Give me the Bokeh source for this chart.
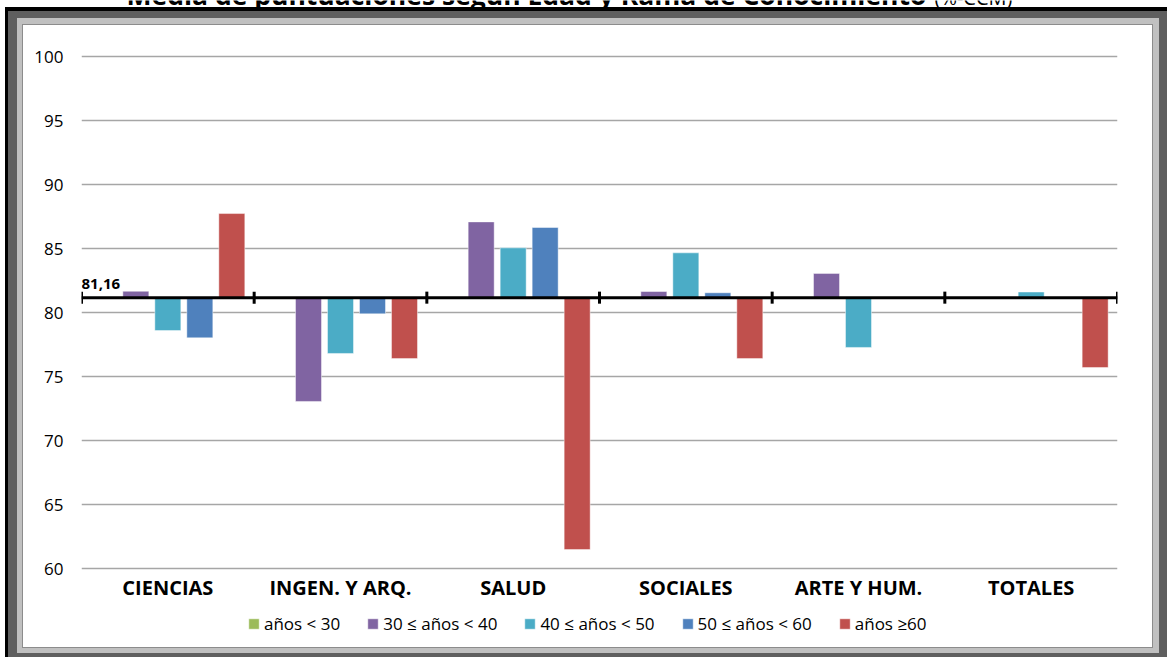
from bokeh.plotting import figure
from bokeh.models import (FactorRange, Range1d, Label, Span, Whisker,
                          ColumnDataSource, Legend, LegendItem, FixedTicker)
from bokeh.core.properties import value
from bokeh.transform import dodge
from bokeh.embed import file_html
from bokeh.resources import INLINE

nan = float("nan")

# ---------------- data ----------------
categories = ["CIENCIAS", "INGEN. Y ARQ.", "SALUD", "SOCIALES", "ARTE Y HUM.", "TOTALES"]
series_names = ["años < 30", "30 ≤ años < 40", "40 ≤ años < 50", "50 ≤ años < 60", "años ≥60"]
menos_30 = [nan, nan, nan, nan, nan, nan]
de_30_40 = [81.66, 73.05, 87.08, 81.64, 83.05, nan]
de_40_50 = [78.59, 76.80, 85.05, 84.66, 77.27, 81.60]
de_50_60 = [78.02, 79.90, 86.64, 81.54, nan, nan]
mas_60 = [87.73, 76.40, 61.48, 76.40, nan, 75.70]
media_total = 81.16
media_label = "81,16"
y_ticks = [60, 65, 70, 75, 80, 85, 90, 95, 100]
title_main = "Media de puntuaciones según Edad y Rama de Conocimiento"
title_sub = "(%-CCM)"

colors = ["#9bbb59", "#8064a2", "#4bacc6", "#4f81bd", "#c0504d"]
FONT = "Open Sans"

# ---------------- layout numbers (pixels) ----------------
W, H = 1167, 657
L, R = 81, 50                  # frame: x 81..1117, full canvas height
GRID_BOTTOM, GRID_TOP = 568, 56   # pixel rows of the values 60 and 100
y_min, y_max_grid = 60, 100
px_per_unit = (GRID_BOTTOM - GRID_TOP) / (y_max_grid - y_min)
y_lo = y_min - (H - GRID_BOTTOM) / px_per_unit
y_hi = y_min + GRID_BOTTOM / px_per_unit
n_cat = len(categories)
CENTER_SHIFT = 0.388           # text box centre sits this many em above the baseline

def sx(px):   # canvas pixel -> synthetic categorical x
    return (px - L) * n_cat / (W - L - R)

def sy(py):   # canvas pixel -> data y
    return y_min + (GRID_BOTTOM - py) / px_per_unit

def sy_base(baseline_px, size_px):   # y for a text whose baseline should sit at baseline_px
    return sy(baseline_px - CENTER_SHIFT * size_px)

p = figure(x_range=FactorRange(*categories, range_padding=0), y_range=Range1d(y_lo, y_hi),
           width=W, height=H, output_backend="svg", toolbar_location=None,
           min_border_left=L, min_border_right=R, min_border_top=0, min_border_bottom=0)
p.background_fill_color = None
p.border_fill_color = None
p.outline_line_color = None
p.xaxis.visible = False

# decorative picture frame drawn behind the transparent canvas
shadows = [
    "inset 5px 0 0 0 #ffffff", "inset 0 7px 0 0 #ffffff",
    "inset 8px 0 0 0 #000000", "inset 0 11px 0 0 #000000",
    "inset 17px 0 0 0 #5f5f5f", "inset 0 18px 0 0 #5f5f5f",
    "inset -8px 0 0 0 #5f5f5f", "inset 0 -4px 0 0 #5f5f5f",
    "inset 22px 0 0 0 #c0c0c0", "inset 0 24px 0 0 #c0c0c0",
    "inset -14px 0 0 0 #c0c0c0", "inset 0 -9px 0 0 #c0c0c0",
    "inset 23px 0 0 0 #8c8c8c", "inset 0 25px 0 0 #8c8c8c",
    "inset -15px 0 0 0 #8c8c8c", "inset 0 -10px 0 0 #8c8c8c",
]
p.styles = {"box-shadow": ", ".join(shadows), "background-color": "#ffffff"}

# grid / y axis
p.xgrid.visible = False
p.ygrid.ticker = FixedTicker(ticks=y_ticks)
p.ygrid.grid_line_color = "#a6a6a6"
p.ygrid.grid_line_width = 1.3

p.yaxis.ticker = FixedTicker(ticks=y_ticks)
p.yaxis.axis_line_color = None
p.yaxis.major_tick_line_color = None
p.yaxis.minor_tick_line_color = None
p.yaxis.major_tick_out = 0
p.yaxis.major_tick_in = 0
p.yaxis.major_label_standoff = 18
p.yaxis.major_label_text_font = FONT
p.yaxis.major_label_text_font_size = "17px"
p.yaxis.major_label_text_color = "black"

# ---------------- bars ----------------
src = ColumnDataSource(dict(cat=categories, s0=menos_30, s1=de_30_40, s2=de_40_50,
                            s3=de_50_60, s4=mas_60))
step = 0.1853
offsets = [-2 * step, -step, 0, step, 2 * step]
items = []
for i, key in enumerate(["s0", "s1", "s2", "s3", "s4"]):
    r = p.vbar(x=dodge("cat", offsets[i], range=p.x_range), top=key, bottom=media_total,
               width=0.1506, source=src, fill_color=colors[i],
               line_color="white", line_alpha=0.45, line_width=1)
    items.append(LegendItem(label=series_names[i], renderers=[r]))

# category labels under the plot
p.text(x="cat", y=sy_base(595, 20), text="cat", source=src, text_align="center",
       text_baseline="alphabetic", text_font=value(FONT), text_font_size=value("20px"),
       text_font_style="bold", text_color="black")

# base line at the overall mean, with category separators
p.add_layout(Span(location=media_total, dimension="width", line_color="black", line_width=3))
tick_src = ColumnDataSource(dict(x=list(range(n_cat + 1))))
p.add_layout(Whisker(base="x", lower=media_total - 0.47, upper=media_total + 0.47,
                     source=tick_src, dimension="height", line_color="black", line_width=3,
                     lower_head=None, upper_head=None))
p.add_layout(Label(x=0, y=media_total, y_offset=8 + CENTER_SHIFT * 15, text=media_label,
                   text_font=FONT, text_font_size="15px", text_font_style="bold",
                   text_color="black", text_baseline="alphabetic"))

# legend
legend = Legend(items=items, orientation="horizontal", location=(166, 22),
                padding=0, margin=0, spacing=26, label_standoff=4,
                glyph_width=13, glyph_height=13, border_line_color=None,
                background_fill_alpha=0, label_text_font=FONT,
                label_text_font_size="17px", label_text_color="black")
p.add_layout(legend)

# title (mostly cut off at the top of the picture)
p.add_layout(Label(x=sx(126), y=sy_base(5, 26.5), text=title_main,
                   text_font=FONT, text_font_size="26.5px", text_font_style="bold",
                   text_color="black", text_baseline="alphabetic"))
p.add_layout(Label(x=sx(934), y=sy_base(5, 20), text=title_sub,
                   text_font=FONT, text_font_size="20px",
                   text_color="black", text_baseline="alphabetic"))

open("out.html", "w").write(file_html(p, INLINE))
